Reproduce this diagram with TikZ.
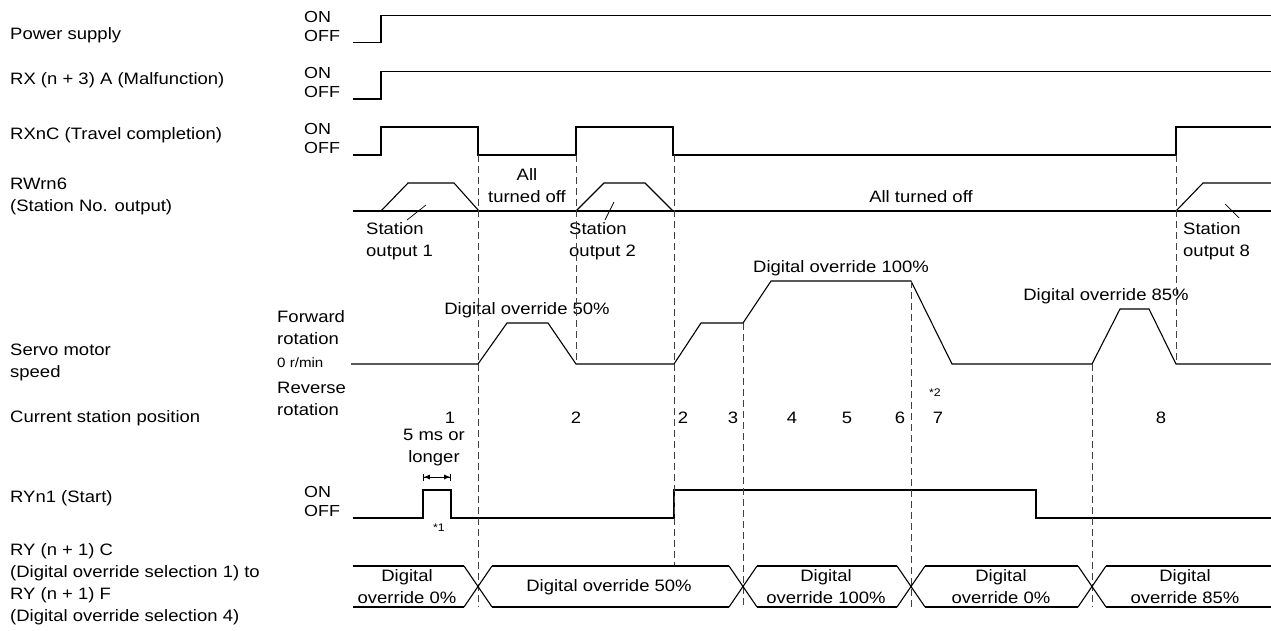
\documentclass[tikz,border=0pt]{standalone}
\usepackage{fontspec}
\setmainfont{Liberation Sans}[FakeStretch=1.12]
\usetikzlibrary{arrows.meta}

\begin{document}
\begin{tikzpicture}[
    x=1pt, y=-1pt,
    sig/.style={line width=1.1pt, line join=miter},
    guide/.style={line width=0.7pt, dash pattern=on 7pt off 4pt, black!75},
    pointer/.style={line width=0.7pt},
    lbl/.style={anchor=west, align=left, inner sep=0pt, font=\fontsize{16.5}{22}\selectfont},
    lvl/.style={anchor=west, inner sep=0pt, font=\fontsize{16}{19}\selectfont},
    txt/.style={align=center, inner sep=0pt, font=\fontsize{16.5}{22}\selectfont},
    small/.style={anchor=west, inner sep=0pt, font=\fontsize{13.5}{16}\selectfont},
    tiny/.style={inner sep=0pt, font=\fontsize{11}{12}\selectfont},
    span/.style={{Bar[width=7pt]Latex[length=6pt,width=5pt]}-{Latex[length=6pt,width=5pt]Bar[width=7pt]}, line width=0.8pt},
]

\useasboundingbox (0,0) rectangle (1271,631);

% ===================== SIGNAL NAMES =====================
\node[lbl] (nPower) at (10,35) {Power supply};
\node[lbl] (nAlarm) at (10,80) {RX (n + 3) A (Malfunction)};
\node[lbl] (nTravel) at (10,135) {RXnC (Travel completion)};
\node[lbl] (nStation) at (10,196) {RWrn6\\(Station No. output)};
\node[lbl] (nSpeed) at (10,362) {Servo motor\\speed};
\node[lbl] (nPos) at (10,418) {Current station position};
\node[lbl] (nStart) at (10,498) {RYn1 (Start)};
\node[lbl] (nOverride) at (10,584) {RY (n + 1) C\\(Digital override selection 1) to\\RY (n + 1) F\\(Digital override selection 4)};

% ===================== LEVEL NAMES =====================
\foreach \n/\y in {pw/17, rx/73, tc/129, st/492} {
    \node[lvl] (on\n) at (304,\y) {ON};
    \node[lvl] (off\n) at (304,\y+19) {OFF};
}
\node[lbl] (fwd) at (277,328) {Forward\\rotation};
\node[small] (zero) at (277,363) {0 r/min};
\node[lbl] (rev) at (277,399) {Reverse\\rotation};

% ===================== ON/OFF SIGNALS =====================
\draw[sig] (353,42.7) -- (381,42.7) -- (381,15.7) -- (1271,15.7);
\draw[sig] (353,99) -- (381,99) -- (381,71.7) -- (1271,71.7);
\draw[sig] (353,155) -- (381,155) -- (381,127) -- (478,127) -- (478,155)
    -- (576,155) -- (576,127) -- (673,127) -- (673,155)
    -- (1176,155) -- (1176,127) -- (1271,127);
\draw[sig] (353,518) -- (423,518) -- (423,490) -- (451,490) -- (451,518)
    -- (674,518) -- (674,490) -- (1036,490) -- (1036,518) -- (1271,518);

% ===================== STATION No. OUTPUT =====================
\draw[sig] (353,211) -- (1271,211);
\draw[sig] (381,211) -- (408,183) -- (454,183) -- (479,211);
\draw[sig] (576,211) -- (604,183) -- (645,183) -- (673,211);
\draw[sig] (1176,211) -- (1203,183) -- (1271,183);

\node[lbl] (out1) at (366,241) {Station\\output 1};
\node[lbl] (out2) at (569,241) {Station\\output 2};
\node[lbl] (out8) at (1183,241) {Station\\output 8};
\draw[pointer] (407,220) -- (426,205);
\draw[pointer] (605,220) -- (614,202);
\draw[pointer] (1225,204) -- (1239,218);

\node[txt] (off1) at (527,186) {All\\turned off};
\node[txt] (off2) at (921,197) {All turned off};

% ===================== SERVO MOTOR SPEED =====================
\draw[sig] (351,364) -- (478,364) -- (507,323) -- (548,323) -- (576,364)
    -- (674,364) -- (701,323) -- (743,323) -- (771,281) -- (911,281)
    -- (952,364) -- (1092,364) -- (1120,309) -- (1149,309) -- (1176,364)
    -- (1271,364);

\node[txt] (ovr50) at (527,310) {Digital override 50\%};
\node[txt] (ovr100) at (841,268) {Digital override 100\%};
\node[txt] (ovr85) at (1106,296) {Digital override 85\%};

% ===================== TIMING GUIDES =====================
\foreach \x/\a/\b in {478/155/607, 576/155/364, 674/155/566, 743/323/607,
                      911/281/607, 1092/364/607, 1176/155/364} {
    \draw[guide] (\x,\a) -- (\x,\b);
}

% ===================== STATION POSITION =====================
\foreach \x/\t [count=\i] in {450/1, 576/2, 683/2, 733/3, 792/4, 847/5,
                              900/6, 938/7, 1161/8} {
    \node[txt] (pos\i) at (\x,418) {\t};
}
\node[tiny] (note2) at (935,393) {*2};

% ===================== START PULSE =====================
\node[txt] (pulse) at (434,448) {5 ms or\\longer};
\draw[span] (423,477) -- (451,477);
\node[tiny] (note1) at (439,528) {*1};

% ===================== OVERRIDE SELECTION =====================
\foreach \a/\b in {353/464, 492/729, 757/897, 925/1078, 1106/1271} {
    \draw[sig] (\a,566) -- (\b,566) (\a,607) -- (\b,607);
}
\foreach \c in {478, 743, 911, 1092} {
    \draw[sig] (\c-14,566) -- (\c+14,607) (\c-14,607) -- (\c+14,566);
}

\node[txt] (sel0) at (407,587) {Digital\\override 0\%};
\node[txt] (sel50) at (609,587) {Digital override 50\%};
\node[txt] (sel100) at (826,587) {Digital\\override 100\%};
\node[txt] (sel0b) at (1001,587) {Digital\\override 0\%};
\node[txt] (sel85) at (1185,587) {Digital\\override 85\%};

\end{tikzpicture}
\end{document}
